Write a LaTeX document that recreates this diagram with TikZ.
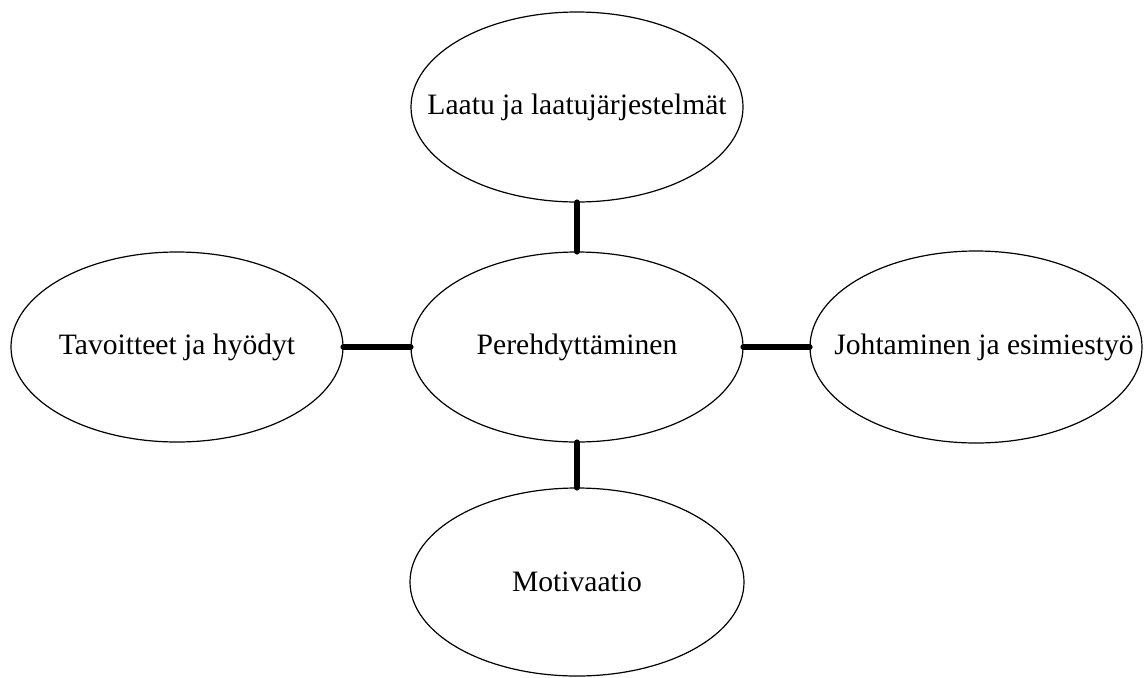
\documentclass[tikz,border=0pt]{standalone}
\usepackage{fontspec}
\setmainfont{Liberation Serif}
\usetikzlibrary{shapes.geometric}
\begin{document}
\begin{tikzpicture}[x=0.5pt,y=0.5pt,
    bubble/.style={draw,ellipse,line width=0.6pt,inner sep=0pt,
        minimum width=166pt,minimum height=95pt,
        font=\fontsize{14.8}{17}\selectfont},
    link/.style={line width=3.2pt,line cap=round}]
			\useasboundingbox (0,0) rectangle (1145,677);

			\node[bubble] (ctr) at (577,330) {\makebox[0pt]{Perehdyttäminen}};
			\node[bubble] (top) at (577,570) {\makebox[0pt]{Laatu ja laatujärjestelmät}};
			\node[bubble] (lft) at (177,330) {\makebox[0pt]{Tavoitteet ja hyödyt}};
			\node[bubble,minimum height=96pt] (rgt) at (976,330) {\makebox[0pt]{\hspace{8pt}Johtaminen ja esimiestyö}};
			\node[bubble,minimum width=167pt,minimum height=94pt] (bot) at (577,95) {\makebox[0pt]{\raisebox{-3pt}{Motivaatio}}};

			\draw[link] (ctr.north) -- (top.south);
			\draw[link] (ctr.west) -- (lft.east);
			\draw[link] (ctr.east) -- (rgt.west);
			\draw[link] (ctr.south) -- (bot.north);
		    \end{tikzpicture}
\end{document}
